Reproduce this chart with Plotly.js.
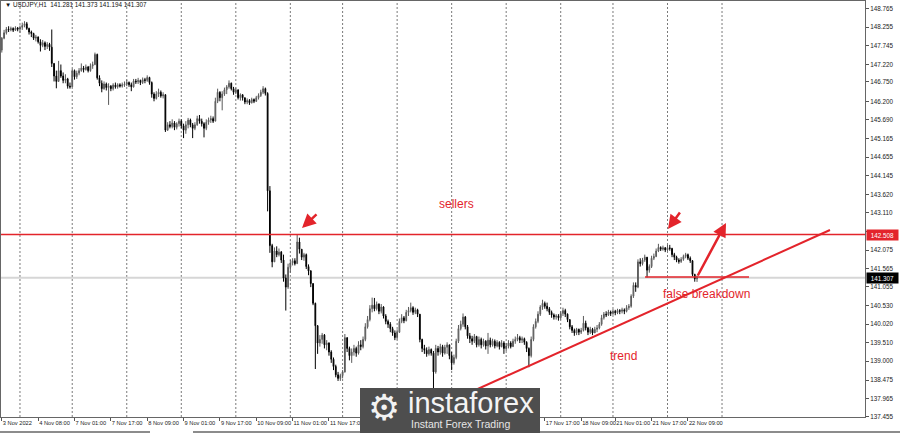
<!DOCTYPE html>
<html><head><meta charset="utf-8">
<script src="https://cdn.plot.ly/plotly-3.0.1.min.js"></script>
<style>html,body{margin:0;padding:0;background:#fff;} #chart{width:900px;height:433px;}</style>
</head><body><div id="chart"></div>
<script>
// ---------------- data ----------------
const symbolTitle = "USDJPY,H1  141.281 141.373 141.194 141.307";
const firstOpen = 147.62;
const closePrices = [
147.95,148.10,148.20,148.18,148.22,148.17,148.23,148.20,148.25,148.30,
148.35,148.22,148.12,148.08,147.95,147.98,147.85,147.75,147.82,147.72,
147.78,147.70,147.25,146.90,146.75,147.05,146.90,146.78,146.82,146.62,
146.60,147.05,146.88,146.98,147.05,147.12,147.08,147.15,147.05,147.18,
147.22,147.50,146.85,146.70,146.55,146.68,146.58,146.62,146.55,146.65,
146.60,146.66,146.62,146.66,146.68,146.72,146.66,146.60,146.76,146.74,
146.78,146.72,146.80,146.78,146.86,146.72,146.40,146.28,146.40,146.45,
146.35,146.38,145.40,145.55,145.50,145.60,145.48,145.58,145.65,145.52,
145.40,145.55,145.68,145.55,145.45,145.55,145.72,145.65,145.58,145.45,
145.62,145.68,145.72,145.65,146.20,146.45,146.30,146.40,146.52,146.60,
146.70,146.55,146.45,146.52,146.30,146.38,146.30,146.18,146.22,
146.16,146.25,146.20,146.30,146.36,146.45,146.55,146.42,143.72,142.20,
141.75,142.05,141.95,142.02,141.80,141.30,141.05,141.60,141.72,141.78,
141.70,142.30,142.10,141.88,141.95,141.62,141.50,141.15,140.60,139.98,
139.50,139.60,139.72,139.45,139.50,139.25,139.05,138.85,138.62,138.52,
138.60,138.70,139.65,139.35,139.15,139.25,139.35,139.22,139.45,139.40,
139.60,139.95,140.15,140.45,140.55,140.45,140.58,140.38,140.50,140.25,
140.10,140.02,139.90,139.78,139.65,139.80,140.10,140.20,140.12,140.35,
140.40,140.48,140.35,140.42,140.30,139.60,139.35,139.30,139.20,139.32,
139.22,138.70,139.35,139.25,139.40,139.22,139.38,139.45,139.15,
138.95,139.10,139.55,139.90,140.02,140.22,139.95,139.70,139.62,139.55,
139.68,139.45,139.60,139.45,139.55,139.42,139.58,139.45,139.55,139.42,
139.52,139.40,139.50,139.35,139.42,139.50,139.40,139.55,139.60,139.65,
139.58,139.62,139.52,139.35,139.15,139.60,139.95,140.10,140.30,140.50,
140.60,140.52,140.45,140.35,140.28,140.22,140.25,140.20,140.32,140.40,
140.30,140.15,139.95,139.85,139.78,139.88,139.80,139.85,140.05,139.92,
139.80,139.88,139.78,139.88,139.92,140.02,140.20,140.30,140.28,140.36,
140.32,140.38,140.34,140.40,140.38,140.42,140.38,140.48,140.52,
140.80,141.10,141.05,141.75,141.70,141.80,141.88,141.52,141.62,141.85,
141.90,142.05,142.15,142.10,142.14,142.08,142.14,142.12,141.95,141.88,
141.80,141.76,141.82,141.90,141.95,141.85,141.78,141.40,141.281,141.307
];
const highPrices = [
147.98,148.18,148.26,148.28,148.27,148.25,148.28,148.26,148.30,148.38,
148.42,148.40,148.24,148.16,148.10,148.04,148.00,147.92,147.90,147.86,
147.84,147.82,148.19,147.25,147.05,147.32,147.22,147.00,146.95,146.85,
146.72,147.10,147.08,147.05,147.12,147.25,147.18,147.22,147.18,147.25,
147.30,147.55,147.52,146.92,146.78,146.75,146.72,146.70,146.65,146.70,
146.72,146.70,146.70,146.72,146.75,146.80,146.75,146.72,146.82,146.82,
146.85,146.80,146.86,146.85,146.92,146.88,146.75,146.45,146.48,146.55,
146.50,146.45,146.40,145.62,145.65,145.70,145.65,145.62,145.72,145.70,
145.58,145.65,145.74,145.72,145.60,145.62,145.80,145.82,145.72,145.62,
145.70,145.75,145.80,145.78,146.30,146.55,146.48,146.48,146.58,146.65,
146.78,146.72,146.60,146.58,146.52,146.42,146.40,146.30,146.28,
146.26,146.30,146.28,146.35,146.42,146.52,146.62,146.58,146.45,143.85,
142.25,142.15,142.18,142.12,142.05,141.95,141.40,141.70,141.80,141.85,
141.85,142.50,142.42,142.10,142.00,141.98,141.68,141.52,141.15,140.62,
140.00,139.72,139.78,139.75,139.58,139.52,139.30,139.10,138.90,138.70,
138.65,138.75,139.75,139.62,139.40,139.35,139.45,139.40,139.55,139.58,
139.68,140.05,140.25,140.55,140.76,140.75,140.65,140.60,140.58,140.52,
140.30,140.15,140.08,139.95,139.85,139.88,140.18,140.30,140.25,140.42,
140.50,140.62,140.52,140.48,140.45,140.30,139.62,139.45,139.38,139.40,
139.35,139.28,139.45,139.42,139.48,139.45,139.45,139.52,139.45,
139.25,139.18,139.62,140.00,140.12,140.32,140.25,140.00,139.78,139.70,
139.75,139.70,139.68,139.65,139.62,139.58,139.78,139.65,139.62,139.60,
139.58,139.55,139.58,139.55,139.50,139.58,139.55,139.62,139.68,139.75,
139.70,139.68,139.65,139.55,139.38,139.68,140.02,140.18,140.38,140.55,
140.70,140.65,140.62,140.50,140.40,140.32,140.30,140.30,140.38,140.48,
140.45,140.32,140.15,140.00,139.90,139.92,139.90,139.92,140.25,140.12,
139.95,139.95,139.92,139.95,140.00,140.08,140.28,140.36,140.38,140.42,
140.40,140.44,140.42,140.45,140.44,140.48,140.46,140.55,140.58,
140.85,141.18,141.18,141.82,141.85,141.86,141.95,141.88,141.68,141.92,
141.98,142.12,142.25,142.18,142.20,142.16,142.22,142.22,142.14,142.00,
141.92,141.85,141.88,141.95,142.00,141.98,141.90,141.80,141.42,141.373
];
const lowPrices = [
147.55,147.92,148.05,148.12,148.14,148.12,148.15,148.14,148.10,148.18,
148.25,148.18,148.05,147.98,147.90,147.86,147.80,147.58,147.70,147.62,
147.65,147.60,147.15,146.75,146.56,146.80,146.85,146.70,146.70,146.55,
146.55,146.60,146.80,146.82,146.92,147.02,147.00,147.05,147.00,147.02,
147.10,147.20,146.80,146.62,146.45,146.52,146.50,146.10,146.48,146.50,
146.55,146.55,146.58,146.58,146.60,146.62,146.60,146.48,146.58,146.68,
146.68,146.65,146.68,146.70,146.74,146.66,146.30,146.20,146.25,146.32,
146.30,146.28,145.35,145.38,145.45,145.45,145.40,145.42,145.50,145.45,
145.18,145.30,145.45,145.48,145.18,145.40,145.52,145.58,145.50,145.20,
145.40,145.55,145.60,145.60,145.65,146.15,146.20,145.95,146.35,146.40,
146.55,146.50,146.38,146.40,146.25,146.22,146.22,146.12,146.12,
146.10,146.14,146.15,146.18,146.25,146.32,146.40,146.36,143.15,142.00,
141.60,141.78,141.88,141.90,141.72,141.20,140.40,141.00,141.45,141.65,
141.65,141.70,141.98,141.80,141.78,141.55,141.38,141.05,140.55,138.78,
139.20,139.40,139.48,139.35,139.30,139.15,138.95,138.75,138.55,138.45,
138.45,138.52,138.68,139.25,139.02,138.95,139.15,139.12,139.18,139.30,
139.35,139.55,139.90,140.10,140.35,140.38,140.40,140.30,140.32,140.18,
140.02,139.92,139.80,139.70,139.58,139.60,139.78,140.05,140.05,140.10,
140.25,140.35,140.28,140.30,140.22,139.52,139.25,139.20,139.12,139.15,
139.15,137.90,138.65,139.15,139.18,139.12,139.18,139.20,139.05,
138.75,138.90,139.05,139.50,139.85,139.95,139.88,139.62,139.50,139.45,
139.50,139.38,139.40,139.35,139.40,139.32,139.20,139.38,139.40,139.35,
139.38,139.32,139.38,139.20,139.28,139.35,139.35,139.40,139.48,139.55,
139.50,139.50,139.45,139.25,138.83,139.10,139.55,139.90,140.05,140.25,
140.42,140.45,140.38,140.28,140.20,140.15,140.15,140.12,140.15,140.25,
140.22,140.08,139.88,139.78,139.70,139.72,139.72,139.75,139.82,139.85,
139.72,139.75,139.72,139.78,139.80,139.88,139.98,140.15,140.22,140.25,
140.25,140.28,140.27,140.30,140.30,140.32,140.30,140.35,140.42,
140.48,140.75,140.92,141.02,141.62,141.65,141.75,141.32,141.45,141.58,
141.80,141.88,142.02,142.05,142.06,142.02,142.05,142.06,141.88,141.80,
141.74,141.70,141.72,141.78,141.85,141.80,141.72,141.35,141.20,141.194
];
// visible time labels (those under the watermark are not shown in the reference)
const xTickBars = [0,16,32,48,64,80,96,112,128,144,239,255,270,286,302];
const xTickLabels = ["3 Nov 2022","4 Nov 08:00","7 Nov 01:00","7 Nov 17:00","8 Nov 09:00","9 Nov 01:00",
  "9 Nov 17:00","10 Nov 09:00","11 Nov 01:00","11 Nov 17:00","17 Nov 17:00","18 Nov 09:00","21 Nov 01:00",
  "21 Nov 17:00","22 Nov 09:00"];
const dayStartBars = [8,31,55,79,103,127,150,174,198,222,246,269,293,317];
const yTickValues = [148.765,148.255,147.745,147.220,146.750,146.200,145.690,145.165,144.655,144.145,
  143.620,143.110,142.600,142.075,141.565,141.055,140.530,140.020,139.510,139.000,138.475,137.965,137.455];
const resistanceLevel = 142.508;
const lastPrice = 141.307;

// ---------------- build ----------------
const barIndex = closePrices.map((_, i) => i);
const openPrices = closePrices.map((c, i) => i === 0 ? firstOpen : closePrices[i - 1]);
const hi = highPrices.map((h, i) => Math.max(h, openPrices[i], closePrices[i]));
const lo = lowPrices.map((l, i) => Math.min(l, openPrices[i], closePrices[i]));

const X0 = -0.352, X1 = 379.93, Y0 = 137.45, Y1 = 148.98;
const PL = 1, PW = 864, PT = 1, PH = 416;
const bx = px => X0 + (px - PL) / PW * (X1 - X0);
const py = p => Y1 - (p - PT) / PH * (Y1 - Y0);
const ppx = px => (px - PL) / PW;
const ppy = p => (PT + PH - p) / PH;

const RED = '#e3242b';
const FONT = 'Liberation Sans, Arial, sans-serif';

const trace = {
  type: 'candlestick', x: barIndex, open: openPrices, high: hi, low: lo, close: closePrices,
  increasing: {line: {color: '#5a5a5a', width: 1}, fillcolor: '#a0a0a0'},
  decreasing: {line: {color: '#000000', width: 1}, fillcolor: '#000000'},
  whiskerwidth: 0, hoverinfo: 'skip', showlegend: false
};

const shapes = [];
dayStartBars.forEach(b => shapes.push({type: 'line', xref: 'x', yref: 'paper', x0: b, x1: b, y0: 0, y1: 1,
  line: {color: '#7a7a7a', width: 1, dash: '2px,2px'}, layer: 'below'}));
shapes.push({type: 'line', xref: 'paper', yref: 'y', x0: 0, x1: 1, y0: lastPrice, y1: lastPrice,
  line: {color: '#d6d6d6', width: 2}, layer: 'below'});
shapes.push({type: 'line', xref: 'paper', yref: 'y', x0: 0, x1: 1, y0: resistanceLevel, y1: resistanceLevel,
  line: {color: RED, width: 1.5}, layer: 'above'});
shapes.push({type: 'line', xref: 'x', yref: 'y', x0: bx(440), y0: py(406), x1: bx(830), y1: py(230),
  line: {color: RED, width: 2}, layer: 'above'});
shapes.push({type: 'line', xref: 'x', yref: 'y', x0: bx(645), y0: py(277), x1: bx(749), y1: py(277),
  line: {color: RED, width: 1.5}, layer: 'above'});
// watermark box
shapes.push({type: 'rect', xref: 'paper', yref: 'paper', x0: ppx(360), x1: ppx(540), y0: ppy(436), y1: ppy(388),
  fillcolor: '#4e4e4e', line: {width: 0}, layer: 'above'});
// window border at the bottom
shapes.push({type: 'line', xref: 'paper', yref: 'paper', x0: ppx(0), x1: ppx(150), y0: ppy(432), y1: ppy(432),
  line: {color: '#8c8c8c', width: 2}, layer: 'above'});
shapes.push({type: 'line', xref: 'paper', yref: 'paper', x0: ppx(193), x1: ppx(360), y0: ppy(432), y1: ppy(432),
  line: {color: '#8c8c8c', width: 2}, layer: 'above'});
shapes.push({type: 'line', xref: 'paper', yref: 'paper', x0: ppx(540), x1: ppx(900), y0: ppy(432), y1: ppy(432),
  line: {color: '#8c8c8c', width: 2}, layer: 'above'});

const arrow = (hx, hy, tx, ty, w) => ({xref: 'x', yref: 'y', axref: 'x', ayref: 'y',
  x: bx(hx), y: py(hy), ax: bx(tx), ay: py(ty), text: '', showarrow: true,
  arrowhead: 2, arrowsize: 1.1, arrowwidth: w, arrowcolor: RED, standoff: 0, startstandoff: 0});
const label = (txt, px, p, size, color) => ({xref: 'x', yref: 'y', x: bx(px), y: py(p), text: txt,
  showarrow: false, font: {family: FONT, size: size, color: color}, xanchor: 'center', yanchor: 'middle'});

const annotations = [
  {xref: 'paper', yref: 'paper', x: ppx(3), y: ppy(5), xanchor: 'left', yanchor: 'middle', showarrow: false,
   text: '▼ ' + symbolTitle, font: {family: FONT, size: 6.3, color: '#111'}},
  label('sellers', 456, 204, 12, RED),
  label('false breakdown', 706, 294, 12, RED),
  label('trend', 623, 356, 12, RED),
  arrow(302, 228, 318, 213, 2.5),
  arrow(668, 229, 681, 211, 2.5),
  arrow(726, 223, 697, 277, 2.5),
  {xref: 'paper', yref: 'y', x: 1, xshift: 1, y: resistanceLevel, xanchor: 'left', yanchor: 'middle',
   text: resistanceLevel.toFixed(3), showarrow: false, bgcolor: RED, borderpad: 1, width: 29, height: 8,
   font: {family: FONT, size: 6.3, color: '#fff'}},
  {xref: 'paper', yref: 'y', x: 1, xshift: 1, y: lastPrice, xanchor: 'left', yanchor: 'middle',
   text: lastPrice.toFixed(3), showarrow: false, bgcolor: '#000', borderpad: 1, width: 29, height: 8,
   font: {family: FONT, size: 6.3, color: '#fff'}},
  {xref: 'paper', yref: 'paper', x: ppx(384), y: ppy(407), xanchor: 'center', yanchor: 'middle', showarrow: false,
   text: '⚙', font: {family: 'DejaVu Sans', size: 36, color: '#f2f2f2'}},
  {xref: 'paper', yref: 'paper', x: ppx(471), y: ppy(403), xanchor: 'center', yanchor: 'middle', showarrow: false,
   text: 'instaforex', font: {family: FONT, size: 29, color: '#f4f4f4'}},
  {xref: 'paper', yref: 'paper', x: ppx(460), y: ppy(424), xanchor: 'center', yanchor: 'middle', showarrow: false,
   text: 'Instant Forex Trading', font: {family: FONT, size: 10.5, color: '#e6e6e6'}}
];

const layout = {
  width: 900, height: 433, margin: {l: PL, r: 900 - PL - PW, t: PT, b: 433 - PT - PH, pad: 0},
  paper_bgcolor: '#fff', plot_bgcolor: '#fff', showlegend: false, boxgap: 0.5,
  xaxis: {range: [X0, X1], rangeslider: {visible: false}, showgrid: false, zeroline: false,
    tickmode: 'array', tickvals: xTickBars, ticktext: xTickLabels, ticklabelposition: 'outside right',
    tickangle: 0, automargin: false,
    ticks: 'outside', ticklen: 3, tickcolor: '#555', showline: true, mirror: true, linecolor: '#666', linewidth: 1,
    tickfont: {family: FONT, size: 5.7, color: '#222'}, fixedrange: true},
  yaxis: {range: [Y0, Y1], side: 'right', showgrid: false, zeroline: false, automargin: false,
    tickmode: 'array', tickvals: yTickValues,
    ticktext: yTickValues.map(v => Math.abs(v - 142.6) < 1e-6 ? '' : v.toFixed(3)),
    ticks: 'outside', ticklen: 3, tickcolor: '#555', showline: true, mirror: true, linecolor: '#666', linewidth: 1,
    tickfont: {family: FONT, size: 6.3, color: '#222'}, fixedrange: true},
  shapes: shapes, annotations: annotations
};

Plotly.newPlot('chart', [trace], layout, {staticPlot: true, displayModeBar: false});
</script>
</body></html>
